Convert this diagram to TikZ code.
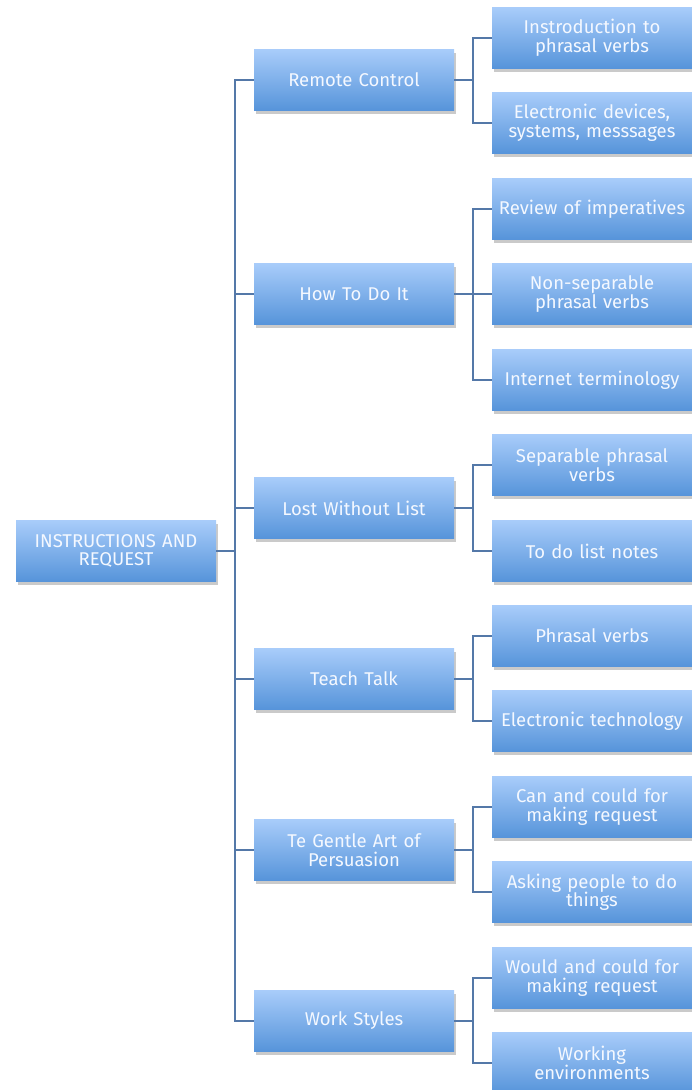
\documentclass[tikz,border=0pt]{standalone}
\usepackage{fontspec}
\setmainfont{Fira Sans}
\usetikzlibrary{shadows}
\definecolor{boxtop}{HTML}{A8CCFA}
\definecolor{boxbot}{HTML}{5694DA}
\definecolor{linec}{HTML}{5478A8}
\definecolor{txt}{HTML}{F4F8FF}
\tikzset{
  box/.style={rectangle, minimum width=200pt, minimum height=61pt, inner sep=1pt,
    top color=boxtop, bottom color=boxbot, draw=none, text=txt, align=center,
    font=\fontsize{18.5}{18.5}\selectfont, text width=198pt,
    drop shadow={shadow xshift=2pt, shadow yshift=-3pt, opacity=0.35, fill=black!60}},
  conn/.style={draw=linec, line width=1.6pt}
}
\begin{document}
\begin{tikzpicture}[x=1pt,y=-1pt]
\useasboundingbox (0,0) rectangle (692,1090);
\node[box] (root) at (116,551) {INSTRUCTIONS AND\\REQUEST};
\node[box] (a) at (354,80) {Remote Control};
\node[box] (b) at (354,294) {How To Do It};
\node[box] (c) at (354,508) {Lost Without List};
\node[box] (d) at (354,679) {Teach Talk};
\node[box] (e) at (354,850) {Te Gentle Art of\\Persuasion};
\node[box] (f) at (354,1021) {Work Styles};
\node[box] (a1) at (592,38) {Instroduction to\\phrasal verbs};
\node[box] (a2) at (592,123) {Electronic devices,\\systems, messsages};
\node[box] (b1) at (592,209) {Review of imperatives};
\node[box] (b2) at (592,294) {Non-separable\\phrasal verbs};
\node[box] (b3) at (592,380) {Internet terminology};
\node[box] (c1) at (592,465) {Separable phrasal\\verbs};
\node[box] (c2) at (592,551) {To do list notes};
\node[box] (d1) at (592,636) {Phrasal verbs};
\node[box] (d2) at (592,721) {Electronic technology};
\node[box] (e1) at (592,807) {Can and could for\\making request};
\node[box] (e2) at (592,892) {Asking people to do\\things};
\node[box] (f1) at (592,978) {Would and could for\\making request};
\node[box] (f2) at (592,1063) {Working\\environments};
\coordinate (t) at (235,551);
\begin{scope}[on background layer/.try]
\foreach \n in {a,b,c,d,e,f} \draw[conn] (root.east) -- (t) |- (\n.west);
\foreach \p/\cs in {a/{a1,a2},b/{b1,b2,b3},c/{c1,c2},d/{d1,d2},e/{e1,e2},f/{f1,f2}}
  \foreach \ch in \cs \draw[conn] (\p.east) -- ++(19,0) |- (\ch.west);
\end{scope}
\end{tikzpicture}
\end{document}
